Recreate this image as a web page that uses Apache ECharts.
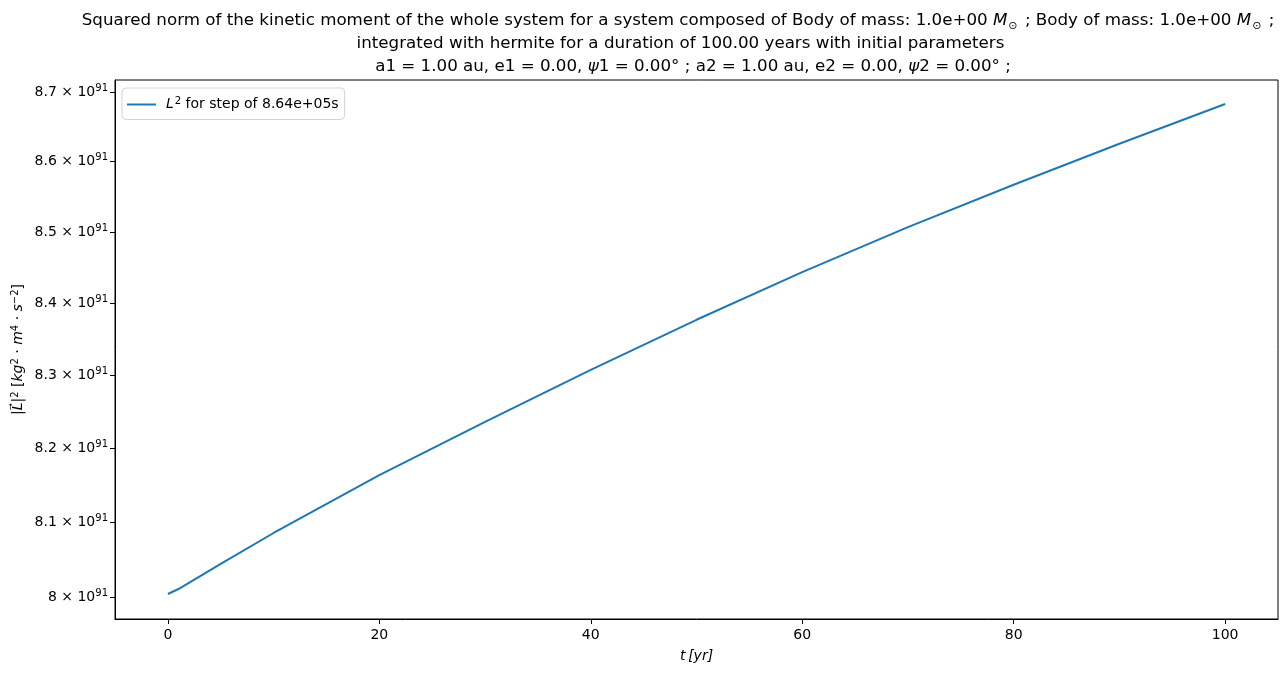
<!DOCTYPE html>
<html>
<head>
<meta charset="utf-8">
<script src="https://cdn.jsdelivr.net/npm/echarts@6/dist/echarts.min.js"></script>
<style>
html,body{margin:0;padding:0;background:#fff;}
#chart{width:1287px;height:676px;}
</style>
</head>
<body>
<div id="chart"></div>
<script>
// ---- data (L^2 in units of 1e91 kg^2 m^4 s^-2) ----
const years = [0, 1, 5, 10, 20, 30, 40, 50, 60, 70, 80, 90, 100];
const l2Mantissa = [8.004, 8.0106, 8.044, 8.0855, 8.1635, 8.2360, 8.3075, 8.3770, 8.4435, 8.5070, 8.5670, 8.6255, 8.6827];
const yExponent = '91';
const seriesName = 'L2 for step of 8.64e+05s';
const xTicks = [0, 20, 40, 60, 80, 100];
const yTicks = [8.0, 8.1, 8.2, 8.3, 8.4, 8.5, 8.6, 8.7];
const yTickLabels = ['8', '8.1', '8.2', '8.3', '8.4', '8.5', '8.6', '8.7'];
const xRange = [-5, 105];
const yRange = [7.9708, 8.7174];
const titleLines = [
  '{n|Squared norm of the kinetic moment of the whole system for a system composed of Body of mass: 1.0e+00 }{i|M}{sub|⊙}{n| ; Body of mass: 1.0e+00 }{i|M}{sub|⊙}{n| ;}',
  '{n|integrated with hermite for a duration of 100.00 years with initial parameters}',
  '{n|a1 = 1.00 au, e1 = 0.00, }{i|ψ}{n|1 = 0.00° ; a2 = 1.00 au, e2 = 0.00, }{i|ψ}{n|2 = 0.00° ;}'
];

const FONT = 'DejaVu Sans';
const lg = v => Math.log10(v);

const chart = echarts.init(document.getElementById('chart'));

const titleRich = {
  n: {fontFamily: FONT, fontSize: 16.7, fontWeight: 'normal', color: '#000', lineHeight: 23},
  i: {fontFamily: FONT, fontSize: 16.7, fontWeight: 'normal', fontStyle: 'italic', color: '#000', lineHeight: 23},
  sub: {fontFamily: FONT, fontSize: 11, fontWeight: 'normal', color: '#000', verticalAlign: 'bottom', lineHeight: 23, padding: [6, 2, 0, 1]}
};
const titleCenters = [678, 680.5, 693];

const option = {
  animation: false,
  backgroundColor: '#ffffff',
  title: titleLines.map((t, k) => ({
    text: t,
    left: titleCenters[k],
    top: 9 + k * 23,
    textAlign: 'center',
    padding: 0,
    textStyle: {fontWeight: 'normal', rich: titleRich}
  })),
  legend: {
    left: 122,
    top: 88,
    orient: 'vertical',
    padding: [8, 6, 8, 5],
    itemWidth: 29,
    itemHeight: 2,
    icon: 'rect',
    backgroundColor: '#fff',
    borderColor: '#d4d4d4',
    borderWidth: 1,
    borderRadius: 4,
    data: [seriesName],
    formatter: () => '{i|L}{sup|2}{n| for step of 8.64e+05s}',
    textStyle: {
      rich: {
        i: {fontFamily: FONT, fontSize: 14, fontStyle: 'italic', color: '#000', padding: [0, 0, 0, 5]},
        sup: {fontFamily: FONT, fontSize: 10, color: '#000', verticalAlign: 'top', padding: [0, 0, 7, 1]},
        n: {fontFamily: FONT, fontSize: 14, color: '#000'}
      }
    }
  },
  grid: {
    left: 115, right: 9, top: 80, bottom: 57,
    outerBoundsMode: 'none',
    containLabel: false,
    show: true, borderColor: '#000', borderWidth: 1, backgroundColor: 'transparent'
  },
  xAxis: {
    type: 'value',
    min: xRange[0], max: xRange[1],
    splitLine: {show: false},
    axisLine: {show: true, onZero: false, lineStyle: {color: '#000', width: 1}},
    axisTick: {show: true, length: 5, lineStyle: {color: '#000'}, customValues: xTicks},
    axisLabel: {customValues: xTicks, margin: 9, fontFamily: FONT, fontSize: 14, color: '#000'},
    name: 't\u2009[yr]',
    nameLocation: 'middle',
    nameGap: 30,
    nameTextStyle: {fontFamily: FONT, fontSize: 14, fontStyle: 'italic', color: '#000'}
  },
  yAxis: {
    type: 'value',
    min: lg(yRange[0]), max: lg(yRange[1]),
    splitLine: {show: false},
    axisLine: {show: true, onZero: false, lineStyle: {color: '#000', width: 1}},
    axisTick: {show: true, length: 5, lineStyle: {color: '#000'}, customValues: yTicks.map(lg)},
    axisLabel: {
      customValues: yTicks.map(lg),
      margin: 7,
      formatter: (v) => {
        let best = 0, bd = Infinity;
        yTicks.forEach((t, k) => { const d = Math.abs(lg(t) - v); if (d < bd) { bd = d; best = k; } });
        return '{m|' + yTickLabels[best] + ' × 10}{e|' + yExponent + '}';
      },
      rich: {
        m: {fontFamily: FONT, fontSize: 14, color: '#000'},
        e: {fontFamily: FONT, fontSize: 10, color: '#000', verticalAlign: 'top', padding: [0, 0, 8, 0]}
      }
    },
    name: '{n||}{i|L⃗}{n||}{s|2}{n| [}{i|kg}{s|2}{n| · }{i|m}{s|4}{n| · }{i|s}{s|−2}{n|]}',
    nameLocation: 'middle',
    nameRotate: 90,
    nameGap: 88,
    nameMoveOverlap: false,
    nameTextStyle: {
      rich: {
        n: {fontFamily: FONT, fontSize: 14, color: '#000'},
        i: {fontFamily: FONT, fontSize: 14, fontStyle: 'italic', color: '#000'},
        s: {fontFamily: FONT, fontSize: 10, color: '#000', verticalAlign: 'top', padding: [0, 0, 7, 0]}
      }
    }
  },
  series: [{
    name: seriesName,
    type: 'line',
    symbol: 'none',
    smooth: false,
    lineStyle: {color: '#1f77b4', width: 2},
    itemStyle: {color: '#1f77b4'},
    data: years.map((t, k) => [t, lg(l2Mantissa[k])])
  }]
};
chart.setOption(option);
</script>
</body>
</html>
